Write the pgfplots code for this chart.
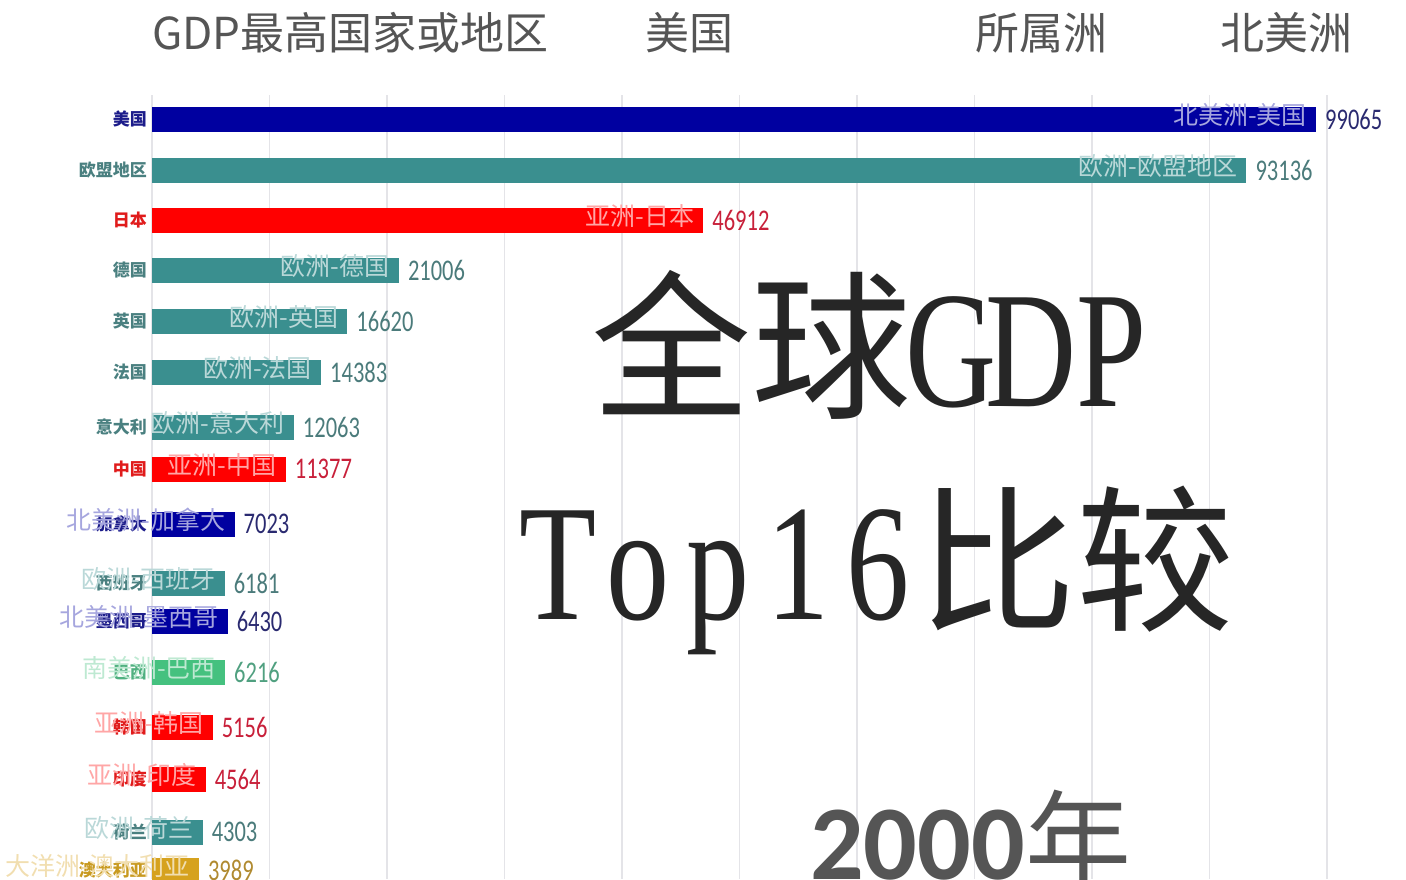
\documentclass[border=0pt]{standalone}
\usepackage{pgfplots}
\pgfplotsset{compat=1.18}
\usepackage{fontspec}
\setmainfont{Noto Sans CJK SC}
\newfontfamily\cjk{Noto Sans CJK SC}
\newfontfamily\numfont[FakeStretch=0.75]{Carlito}
\newfontfamily\bignum{Carlito}
\newfontfamily\serifL[FakeStretch=0.76]{Liberation Serif}

\definecolor{gridc}{HTML}{E4E4E8}
\definecolor{cblue}{HTML}{0000A0}
\definecolor{cteal}{HTML}{3A8F8F}
\definecolor{cred}{HTML}{FF0000}
\definecolor{cgreen}{HTML}{45C17F}
\definecolor{cgold}{HTML}{D6A21E}
\definecolor{nblue}{HTML}{1C1C8A}
\definecolor{nteal}{HTML}{4A8080}
\definecolor{nred}{HTML}{E01B1B}
\definecolor{ngreen}{HTML}{50B080}
\definecolor{ngold}{HTML}{C89A20}
\definecolor{vblue}{HTML}{2A2A70}
\definecolor{vteal}{HTML}{4B7B7B}
\definecolor{vred}{HTML}{C8203A}
\definecolor{vgreen}{HTML}{50A080}
\definecolor{vgold}{HTML}{B08A30}
\definecolor{titlec}{HTML}{555555}
\definecolor{bigc}{HTML}{262626}

% value, y (pixel row), colour key, name, inner label
\newcommand\row[5]{%
  \addplot[xbar, bar shift=0pt, bar width=25, fill=c#3, draw=none] coordinates {(#1,#2)};
  \node[anchor=east, inner sep=0pt, text=n#3, font=\cjk\bfseries\fontsize{17}{17}\selectfont, xshift=-5pt] at (axis cs:0,#2) {#4};
  \node[anchor=east, inner sep=0pt, text=c#3!35!white, font=\cjk\fontsize{25}{25}\selectfont, xshift=-9pt, yshift=4pt] at (axis cs:#1,#2) {#5};
  \node[anchor=west, inner sep=0pt, text=v#3, font=\numfont\fontsize{30}{30}\selectfont, xshift=9pt] at (axis cs:#1,#2) {#1};
}

\begin{document}
\begin{tikzpicture}
\path[use as bounding box] (0pt,0pt) rectangle (1406pt,879pt);
\begin{axis}[
  at={(0pt,0pt)}, anchor=south west,
  scale only axis, width=1406pt, height=879pt,
  xmin=-12936, xmax=106723,
  ymin=0, ymax=879, y dir=reverse,
  hide axis, clip=true,
]
\pgfplotsinvokeforeach{0,10000,20000,30000,40000,50000,60000,70000,80000,90000,100000}{%
  \addplot[line width=1.5pt, color=gridc] coordinates {(#1,95) (#1,879)};
}
\row{99065}{119}{blue}{美国}{北美洲-美国}
\row{93136}{170}{teal}{欧盟地区}{欧洲-欧盟地区}
\row{46912}{220}{red}{日本}{亚洲-日本}
\row{21006}{270}{teal}{德国}{欧洲-德国}
\row{16620}{321}{teal}{英国}{欧洲-英国}
\row{14383}{372}{teal}{法国}{欧洲-法国}
\row{12063}{427}{teal}{意大利}{欧洲-意大利}
\row{11377}{469}{red}{中国}{亚洲-中国}
\row{7023}{524}{blue}{加拿大}{北美洲-加拿大}
\row{6181}{583}{teal}{西班牙}{欧洲-西班牙}
\row{6430}{621}{blue}{墨西哥}{北美洲-墨西哥}
\row{6216}{672}{green}{巴西}{南美洲-巴西}
\row{5156}{727}{red}{韩国}{亚洲-韩国}
\row{4564}{779}{red}{印度}{亚洲-印度}
\row{4303}{832}{teal}{荷兰}{欧洲-荷兰}
\row{3989}{870}{gold}{澳大利亚}{大洋洲-澳大利亚}
\end{axis}

% header row
\begin{scope}[every node/.style={anchor=base west, inner sep=0pt, text=titlec, font=\cjk\fontsize{44}{44}\selectfont}]
\node at (152pt,829pt) {GDP最高国家或地区};
\node at (645pt,829pt) {美国};
\node at (975pt,829pt) {所属洲};
\node at (1220pt,829pt) {北美洲};
\end{scope}

% big overlay title
\node[anchor=base west, inner sep=0pt, text=bigc] at (591pt,472pt)
  {{\cjk\fontsize{160}{160}\selectfont 全球}{\serifL\fontsize{166}{166}\selectfont\makebox[80pt]{G}\makebox[80pt]{D}\makebox[80pt]{P}}};
\node[anchor=base west, inner sep=0pt, text=bigc] at (518pt,259pt)
  {{\serifL\fontsize{166}{166}\selectfont\makebox[80pt]{T}\makebox[80pt]{o}\makebox[80pt]{p}\makebox[80pt]{1}\makebox[80pt]{6}}{\cjk\fontsize{158}{158}\selectfont 比较}};

% year
\node[anchor=base west, inner sep=0pt, text=titlec] at (810pt,0pt)
  {{\bignum\bfseries\fontsize{106}{106}\selectfont 2000}{\cjk\fontsize{106}{106}\selectfont 年}};
\end{tikzpicture}
\end{document}
